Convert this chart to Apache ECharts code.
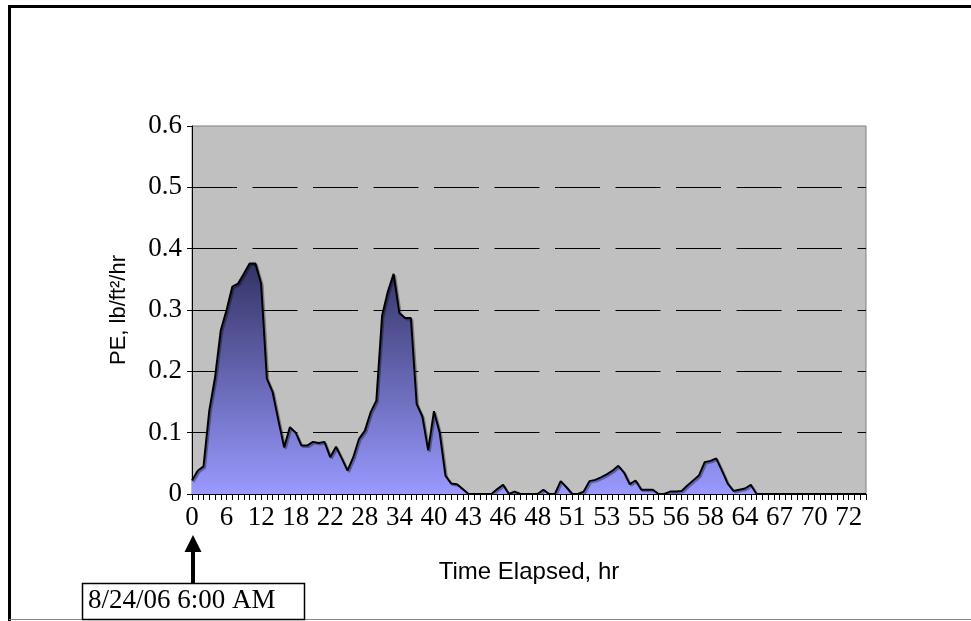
<!DOCTYPE html>
<html><head><meta charset="utf-8">
<script src="https://cdn.jsdelivr.net/npm/echarts@6/dist/echarts.min.js"></script>
<style>html,body{margin:0;padding:0;background:#fff}#c{width:971px;height:621px}</style>
</head><body><div id="c"></div>
<script>
// Category labels (hours elapsed) – one per sample
const hours = [
  0,1,2,3,4,5,6,
  7,8,9,10,11,12,
  13,14,15,16,17,18,
  19,19,20,21,21,22,
  23,24,25,26,27,28,
  29,30,31,32,33,34,
  35,36,37,38,39,40,
  40,41,41,42,42,43,
  43,44,44,45,45,46,
  46,47,47,47,48,48,
  48,49,49,50,50,51,
  51,52,52,52,53,53,
  53,54,54,54,55,55,
  55,55,55,56,56,56,
  56,57,57,57,58,58,
  59,60,61,62,63,64,
  64,65,65,66,66,67,
  67,68,68,69,69,70,
  70,71,71,71,72,72,
  73,73,74
];
// PE, lb/ft2/hr
const peValues = [
  0.022,0.038,0.045,0.136,0.19,0.267,0.30,
  0.338,0.343,0.359,0.376,0.376,0.343,
  0.188,0.166,0.12,0.076,0.109,0.10,
  0.079,0.079,0.085,0.083,0.085,0.06,
  0.077,0.058,0.038,0.06,0.09,0.103,
  0.133,0.152,0.291,0.33,0.359,0.295,
  0.287,0.287,0.147,0.126,0.071,0.135,
  0.10,0.030,0.017,0.016,0.008,0,
  0,0,0,0,0.008,0.015,
  0,0.004,0,0,0,0,
  0.007,0,0,0.021,0.011,0,
  0,0.004,0.021,0.023,0.027,0.032,
  0.038,0.046,0.035,0.016,0.022,0.007,
  0.007,0.007,0,0,0.004,0.004,
  0.005,0.014,0.022,0.03,0.052,0.054,
  0.058,0.038,0.017,0.005,0.007,0.009,
  0.015,0,0,0,0,0,
  0,0,0,0,0,0,
  0,0,0,0,0,0,
  0,0,0
];
const yTickLabels = ['0','0.1','0.2','0.3','0.4','0.5','0.6'];
const startLabel = '8/24/06 6:00 AM';

const chart = echarts.init(document.getElementById('c'), null, {renderer:'canvas'});
chart.setOption({
  animation: false,
  backgroundColor: '#ffffff',
  grid: {left:192, top:126, right:105, bottom:127, show:true, backgroundColor:'#C0C0C0', borderColor:'#808080', borderWidth:1, containLabel:false},
  xAxis: {
    type:'category', data: hours, boundaryGap:false,
    name:'Time Elapsed, hr', nameLocation:'middle', nameGap:66,
    nameTextStyle:{fontFamily:'Liberation Sans', fontSize:24, color:'#000'},
    axisLine:{show:true, lineStyle:{color:'#000', width:1}},
    axisTick:{show:true, interval:0, length:6, lineStyle:{color:'#000'}},
    axisLabel:{interval:5, fontFamily:'Liberation Serif', fontSize:27, color:'#000', margin:10},
    splitLine:{show:false}
  },
  yAxis: {
    type:'value', min:0, max:0.6, interval:0.1,
    name:'PE, lb/ft²/hr', nameLocation:'middle', nameRotate:90, nameGap:62,
    nameTextStyle:{fontFamily:'Liberation Sans', fontSize:22, color:'#000'},
    axisLine:{show:true, lineStyle:{color:'#000', width:1}},
    axisTick:{show:true, length:5, lineStyle:{color:'#000'}},
    axisLabel:{fontFamily:'Liberation Serif', fontSize:27, color:'#000', margin:10,
      formatter:(v)=> yTickLabels[Math.round(v*10)]},
    splitLine:{show:true, showMinLine:false, showMaxLine:false, lineStyle:{color:'#000', width:1, type:[45,15.5]}}
  },
  series: [{
    type:'line', data: peValues, symbol:'none', smooth:false,
    lineStyle:{color:'#000', width:2, shadowColor:'rgba(0,0,0,0.35)', shadowOffsetX:1.5, shadowOffsetY:1.5},
    areaStyle:{opacity:1, color:new echarts.graphic.LinearGradient(0,0,0,1,[{offset:0,color:'#333366'},{offset:1,color:'#9999FF'}])}
  }],
  graphic: [
    {type:'line', shape:{x1:9.5, y1:6.5, x2:971, y2:6.5}, style:{stroke:'#000', lineWidth:3}},
    {type:'line', shape:{x1:9.5, y1:5, x2:9.5, y2:621}, style:{stroke:'#000', lineWidth:3}},
    {type:'line', shape:{x1:9, y1:619.5, x2:971, y2:619.5}, style:{stroke:'#888', lineWidth:1}},
    {type:'line', shape:{x1:193, y1:583, x2:193, y2:550}, style:{stroke:'#000', lineWidth:4}},
    {type:'polygon', shape:{points:[[184.5,552],[201.5,552],[193,535]]}, style:{fill:'#000'}},
    {type:'rect', shape:{x:82.5, y:583.5, width:222, height:36}, style:{fill:'#fff', stroke:'#000', lineWidth:1.5}},
    {type:'text', left:88, top:587, style:{text:startLabel, font:'27px "Liberation Serif"', fill:'#000'}}
  ]
});
</script>
</body></html>
